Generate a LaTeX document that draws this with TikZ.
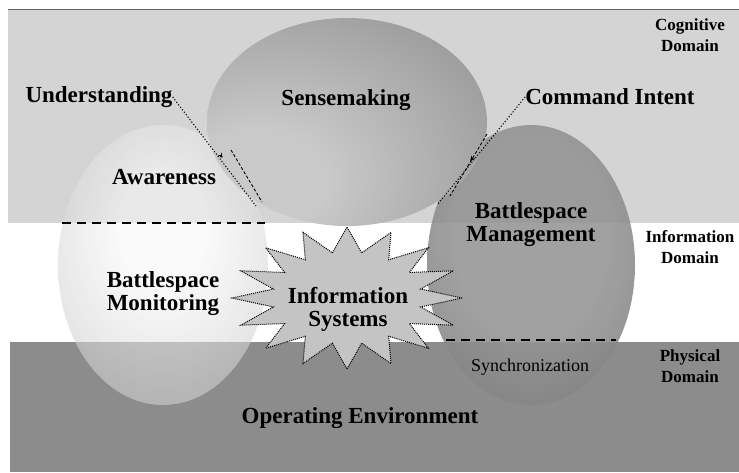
\documentclass[tikz,border=0pt]{standalone}
\usepackage{fontspec}
\setmainfont{Liberation Serif}
\usetikzlibrary{shapes.geometric,positioning}

\definecolor{cogback}{gray}{0.83}
\definecolor{physback}{gray}{0.55}
\definecolor{sensehi}{gray}{0.79}
\definecolor{senselo}{gray}{0.57}
\definecolor{monhi}{gray}{0.97}
\definecolor{monlo}{gray}{0.70}
\definecolor{mgmthi}{gray}{0.58}
\definecolor{mgmtlo}{gray}{0.43}
\definecolor{starfill}{gray}{0.77}

% shadings with the light spot off centre
\pgfdeclareradialshading{sensefill}{\pgfpoint{-18bp}{-16bp}}{color(0bp)=(sensehi);color(12bp)=(sensehi);color(48bp)=(senselo);color(100bp)=(senselo)}
\pgfdeclareradialshading{monfill}{\pgfpoint{0bp}{8bp}}{color(0bp)=(monhi);color(10bp)=(monhi);color(46bp)=(monlo);color(100bp)=(monlo)}
\pgfdeclareradialshading{mgmtfill}{\pgfpoint{0bp}{6bp}}{color(0bp)=(mgmthi);color(18bp)=(mgmthi);color(50bp)=(mgmtlo);color(100bp)=(mgmtlo)}

\begin{document}
\begin{tikzpicture}[>=stealth, x=1pt, y=-1pt,
  lbl/.style={font=\fontsize{23}{23}\selectfont\bfseries, align=center, inner sep=0pt},
  dom/.style={font=\fontsize{17}{21}\selectfont\bfseries, align=center, inner sep=0pt},
  blob/.style={ellipse, inner sep=0pt, outer sep=0pt},
  link/.style={dotted, line width=1.1pt},
  border/.style={dash pattern=on 9pt off 6pt, line width=1.3pt}]
  \useasboundingbox (0,0) rectangle (739,472);

  % domains
  \fill[cogback] (8,9) rectangle (739,223);
  \draw[gray!80!black, thin] (8,9) -- (739,9);
  \fill[physback] (10,342) rectangle (739,472);

  % the three ellipses
  \node[blob, minimum width=210pt, minimum height=280pt, shade, shading=monfill, fill opacity=0.6] (mon) at (163,265) {};
  \node[blob, minimum width=208pt, minimum height=280pt, shade, shading=mgmtfill, fill opacity=0.88] (mgmt) at (531,265) {};
  \node[blob, minimum width=280pt, minimum height=208pt, shade, shading=sensefill] (sense) at (347,122) {};

  \draw[border] (62,223) -- (265,223);
  \draw[border] (446,340) -- (616,340);

  % information systems star
  \begin{scope}[shift={(347,298)}]
    \filldraw[fill=starfill, draw=black, densely dotted, line width=1pt] (115,0)
      \foreach \i [evaluate=\i as \rx using {mod(\i,2)==0 ? 115 : 75},
                   evaluate=\i as \ry using {mod(\i,2)==0 ? 71 : 46}] in {1,...,31}
      { -- ({\rx*cos(\i*11.25)},{\ry*sin(\i*11.25)}) } -- cycle;
  \end{scope}

  % labels
  \node[lbl] (sensetxt) at (346,100) {Sensemaking};
  \node[lbl] (aware) at (164,177) {Awareness};
  \node[lbl] (montxt) at (163,294) {Battlespace\\Monitoring};
  \node[lbl] (mgmttxt) at (531,225) {Battlespace\\Management};
  \node[lbl] (sys) at (348,309) {Information\\Systems};
  \node[font=\fontsize{18}{18}\selectfont, inner sep=0pt] (sync) at (530,367) {Synchronization};
  \node[lbl] (openv) at (360,418) {Operating Environment};
  \node[lbl] (und) at (99,97) {Understanding};
  \node[lbl] (cmd) at (610,97) {Command Intent};

  \node[dom] (cog) at (690,35) {Cognitive\\Domain};
  \node[dom] (inf) at (690,247) {Information\\Domain};
  \node[dom] (phy) at (690,366) {Physical\\Domain};

  % understanding and intent
  \coordinate (undtip) at (256,206);
  \coordinate (undmid) at (222,157);
  \coordinate (undA) at (231,150);
  \coordinate (undB) at (262,202);
  \draw[link] (und.east) -- (undtip);
  \draw[link, solid, ->] (undmid) -- ++(0.5,0.7);
  \draw[link, densely dashed, line width=0.9pt] (undA) -- (undB);

  \coordinate (cmdtip) at (437,205);
  \coordinate (cmdmid) at (471,160);
  \coordinate (cmdA) at (487,134);
  \coordinate (cmdB) at (450,196);
  \draw[link] (cmd.west) -- (cmdtip);
  \draw[link, solid, ->] (cmdmid) -- ++(-0.6,0.8);
  \draw[link, densely dashed, line width=0.9pt] (cmdA) -- (cmdB);
\end{tikzpicture}
\end{document}
